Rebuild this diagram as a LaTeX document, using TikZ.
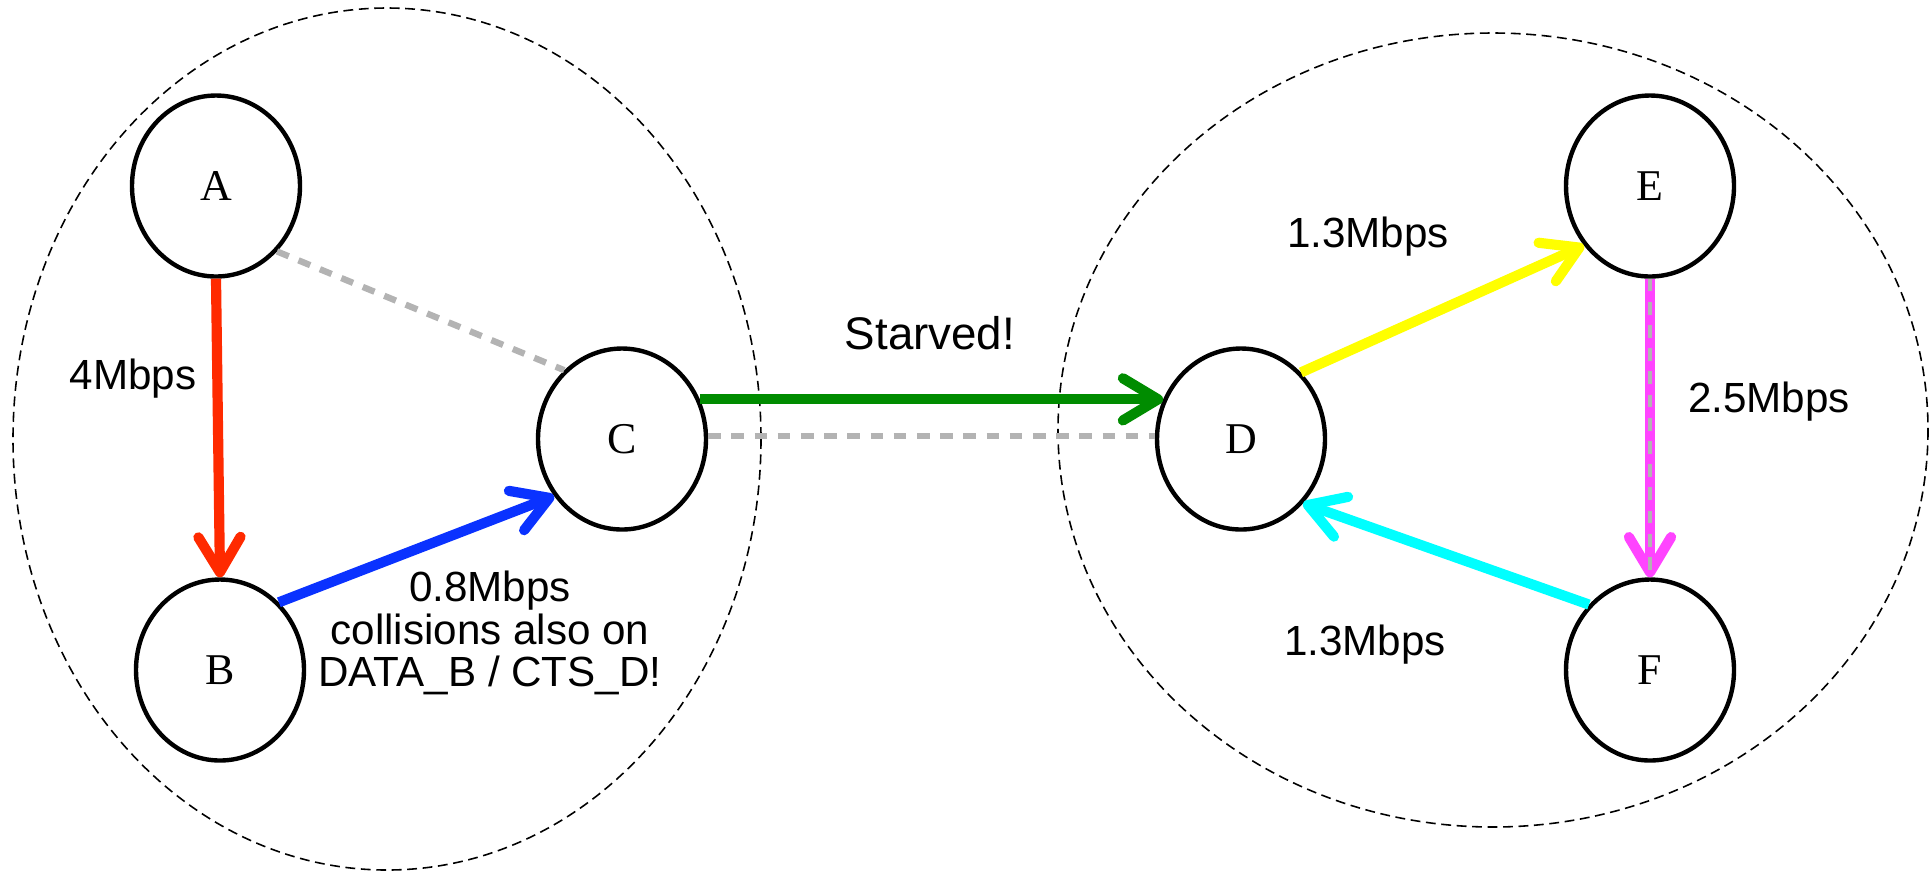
\documentclass[tikz,border=0pt]{standalone}
\usepackage{fontspec}
\setmainfont{Liberation Serif}
\setsansfont{Liberation Sans}
\usepackage{tikz}
\usetikzlibrary{arrows.meta,shapes.geometric}
\definecolor{rate}{HTML}{FF2A00}
\definecolor{coll}{HTML}{0A32FF}
\definecolor{starve}{HTML}{008C00}
\definecolor{upl}{HTML}{FFFF00}
\definecolor{back}{HTML}{00FFFF}
\definecolor{pink}{HTML}{FF44FF}
\definecolor{hear}{HTML}{B3B3B3}
\tikzset{
  sta/.style={draw=black, ellipse, line width=1.25pt, minimum width=16.8mm, minimum height=18.1mm, inner sep=0pt, font=\fontsize{12.5}{14}\selectfont},
  flow/.style={line width=2.9pt, -{Straight Barb[length=10pt,width=12pt,round]}},
  hear/.style={draw=hear, line width=1.8pt, dash pattern=on 3.6pt off 3pt},
  zone/.style={draw=black, line width=0.45pt, dash pattern=on 2.8pt off 1.6pt},
  lab/.style={font=\sffamily\fontsize{12}{12}\selectfont, align=center},
}
\begin{document}
\begin{tikzpicture}[x=0.1mm, y=-0.1mm]
  \useasboundingbox (0,0) rectangle (1930,873);
  % the two contention areas
  \draw[zone] (387,439) ellipse [x radius=374, y radius=431];
  \draw[zone] (1493,430) ellipse [x radius=435, y radius=397];
  \foreach \X/\px/\py in {A/216/186,B/220/670,C/622/439,D/1241/439,E/1650/186,F/1650/670}
    \node[sta] (\X) at (\px,\py) {\X};
  % stations that hear each other
  \draw[hear] (A.313) -- (C.130);
  \draw[hear] (C.2) -- (D.178);
  % traffic
  \draw[flow, rate] (A.south) -- (B.north);
  \draw[flow, coll] (B.49) -- (C.220);
  \draw[flow, starve] (C.27) -- (D.153);
  \draw[flow, upl] (D.48) -- (E.222);
  \draw[flow, pink] (E.south) -- (F.north);
  \draw[hear, line width=1.3pt] (E.south) -- (F.north);
  \draw[flow, back] (F.133) -- (D.314);
  \node[lab] (rAB) at (133,379) {4Mbps};
  \node[lab] (rBC) at (490,633) {0.8Mbps\\collisions also on\\DATA\_B / CTS\_D!};
  \node[lab, font=\sffamily\fontsize{13}{15}\selectfont] (rCD) at (930,333) {Starved!};
  \node[lab] (rDE) at (1368,237) {1.3Mbps};
  \node[lab] (rEF) at (1769,402) {2.5Mbps};
  \node[lab] (rFD) at (1365,645) {1.3Mbps};
\end{tikzpicture}
\end{document}
